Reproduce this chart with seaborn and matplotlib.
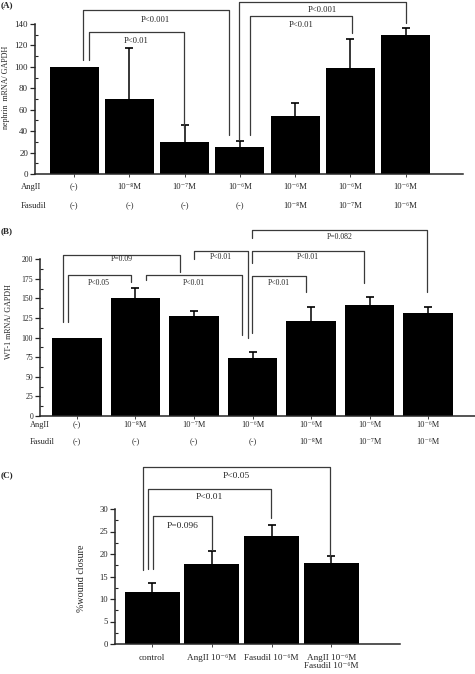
import numpy as np
import pandas as pd
import matplotlib
matplotlib.use("Agg")
import matplotlib.pyplot as plt
from matplotlib.ticker import MultipleLocator
import seaborn as sns

# valores
angii_ab = ["(-)", "10⁻⁸M", "10⁻⁷M", "10⁻⁶M", "10⁻⁶M", "10⁻⁶M", "10⁻⁶M"]
fasudil_ab = ["(-)", "(-)", "(-)", "(-)", "10⁻⁸M", "10⁻⁷M", "10⁻⁶M"]

nefrina = [100, 70, 30, 25, 54, 99, 130]
nefrina_erro = [0, 48, 16, 6, 12, 27, 6]

wt1 = [99, 150, 128, 74, 121, 142, 131]
wt1_erro = [0, 13, 6.5, 8, 18, 10.5, 8.5]

grupos_c = ["control", "AngII 10⁻⁶M", "Fasudil 10⁻⁶M", "AngII 10⁻⁶M\nFasudil 10⁻⁶M"]
fechamento = [11.6, 17.8, 24.1, 17.9]
fechamento_erro = [1.9, 2.9, 2.3, 1.6]

# colchetes de significancia: (x1, x2, topo, fim esquerdo, fim direito, texto, y do texto)
colchetes_a = [
    (0.154, 2.80, 153, 106.4, 36.4, "P<0.001", 143.7),
    (0.263, 1.985, 132.5, 106.4, 42.9, "P<0.01", 124.1),
    (2.98, 6.01, 160.6, 31.7, 141, "P<0.001", 153),
    (3.18, 5.03, 147.5, 36.4, 131.6, "P<0.01", 139.5),
]
colchetes_b = [
    (-0.24, 1.76, 205.5, 120.4, 184.2, "P=0.09", 200.4),
    (-0.154, 0.918, 180, 120.4, 171.5, "P<0.05", 169.4),
    (1.174, 2.826, 180, 173.6, 103.4, "P<0.01", 169.4),
    (2.0, 2.918, 211, 200, 99.2, "P<0.01", 203.4),
    (2.997, 5.98, 237.5, 226.9, 158.7, "P=0.082", 228.9),
    (2.997, 4.906, 211, 195, 169.8, "P<0.01", 203),
    (2.997, 3.91, 179.1, 105.6, 158.7, "P<0.01", 169.4),
]
colchetes_c = [
    (-0.156, 2.98, 39.4, 16.4, 19.0, "P<0.05", 37.4),
    (-0.072, 1.99, 34.4, 16.6, 28.1, "P<0.01", 32.7),
    (0.022, 0.998, 28.4, 16.6, 21.0, "P=0.096", 26.3),
]

sns.set_style("ticks")
plt.rcParams['font.family'] = ['Liberation Serif', 'DejaVu Serif']

W, H = 475, 674
fig = plt.figure(figsize=(W / 100, H / 100), dpi=100)


def eixo(x0, x1, y_base, y_topo):
    return fig.add_axes([x0 / W, 1 - y_base / H, (x1 - x0) / W, (y_base - y_topo) / H])


def painel(ax, valores, erros, largura, xlim, ylim, passo, passo_menor, fs):
    df = pd.DataFrame({"grupo": range(len(valores)), "valor": valores})
    sns.barplot(data=df, x="grupo", y="valor", color="black", saturation=1,
                width=largura, errorbar=None, edgecolor="black", linewidth=0, ax=ax)
    pos = np.arange(len(valores))
    err = np.array(erros, dtype=float)
    val = np.array(valores, dtype=float)
    m = err > 0
    # haste so para cima, com tampa apenas no topo
    ax.errorbar(pos[m], val[m], yerr=[np.zeros(m.sum()), err[m]],
                fmt="none", ecolor="black", elinewidth=1.1, capsize=0)
    ax.plot(pos[m], val[m] + err[m], ls="none", marker="_", ms=5.5, mew=1.2, color="black")
    ax.set_xlim(*xlim)
    ax.set_ylim(*ylim)
    ax.yaxis.set_major_locator(MultipleLocator(passo))
    ax.yaxis.set_minor_locator(MultipleLocator(passo_menor))
    ax.tick_params(axis="y", which="major", direction="out", length=3.5, width=0.9, labelsize=fs, pad=1.5)
    ax.tick_params(axis="y", which="minor", direction="in", length=2.5, width=0.8)
    ax.tick_params(axis="x", which="major", direction="out", length=2, width=0.6)
    ax.set_xticks(pos)
    ax.set_xlabel("")
    for lado in ["top", "right"]:
        ax.spines[lado].set_visible(False)
    ax.spines["left"].set_linewidth(1.1)
    ax.spines["bottom"].set_linewidth(1.1)
    ax.set_facecolor("white")


def desenha_colchetes(ax, lista, fs):
    for x1, x2, topo, ye, yd, texto, yt in lista:
        ax.plot([x1, x1, x2, x2], [ye, topo, topo, yd], color="#3a3a3a", lw=0.9, clip_on=False)
        ax.text((x1 + x2) / 2, yt, texto, ha="center", va="center", fontsize=fs, clip_on=False)


def tabela(ax, linha1, linha2, y1, y2, x_rot, fs):
    tr = ax.get_xaxis_transform()
    for i, (a, f) in enumerate(zip(linha1, linha2)):
        ax.text(i, y1, a, transform=tr, ha="center", va="center", fontsize=fs)
        ax.text(i, y2, f, transform=tr, ha="center", va="center", fontsize=fs)
    ax.text(x_rot, y1, "AngII", transform=ax.transAxes, ha="left", va="center", fontsize=fs)
    ax.text(x_rot, y2, "Fasudil", transform=ax.transAxes, ha="left", va="center", fontsize=fs)


# (A) nefrina
ax_a = eixo(35, 463, 174, 24)
painel(ax_a, nefrina, nefrina_erro, 0.89, (-0.71, 7.04), (0, 140), 20, 10, 6.5)
ax_a.set_xticklabels([])
ax_a.set_ylabel("nephrin  mRNA/ GAPDH", fontsize=5.8)
ax_a.yaxis.set_label_coords(-0.058, 0.58)
desenha_colchetes(ax_a, colchetes_a, 6.2)
tabela(ax_a, angii_ab, fasudil_ab, -0.087, -0.213, (21 - 35) / 428, 6.2)

# (B) WT-1
ax_b = eixo(40, 475, 416, 259.3)
painel(ax_b, wt1, wt1_erro, 0.85, (-0.63, 6.8), (0, 200), 25, 12.5, 5.6)
ax_b.set_xticklabels([])
ax_b.set_ylabel("WT-1 mRNA/ GAPDH", fontsize=5.8)
ax_b.yaxis.set_label_coords(-0.062, 0.6)
desenha_colchetes(ax_b, colchetes_b, 5.6)
tabela(ax_b, angii_ab, fasudil_ab, -0.057, -0.164, (30 - 40) / 435, 6.0)

# (C) fechamento da ferida
ax_c = eixo(115, 400, 644, 509)
painel(ax_c, fechamento, fechamento_erro, 0.92, (-0.62, 4.15), (0, 30), 5, 2.5, 6.2)
ax_c.set_xticklabels(grupos_c, fontsize=6.6, linespacing=1.05, va="top")
ax_c.tick_params(axis="x", pad=5)
ax_c.set_ylabel("%wound closure", fontsize=7.2)
ax_c.yaxis.set_label_coords(-0.102, 0.49)
desenha_colchetes(ax_c, colchetes_c, 6.8)

for rot, y in [("(A)", 5), ("(B)", 231), ("(C)", 475)]:
    fig.text(1 / W, 1 - y / H, rot, ha="left", va="center", fontsize=6.5, fontweight="bold")

fig.savefig("out.png", dpi=100, facecolor="white")
